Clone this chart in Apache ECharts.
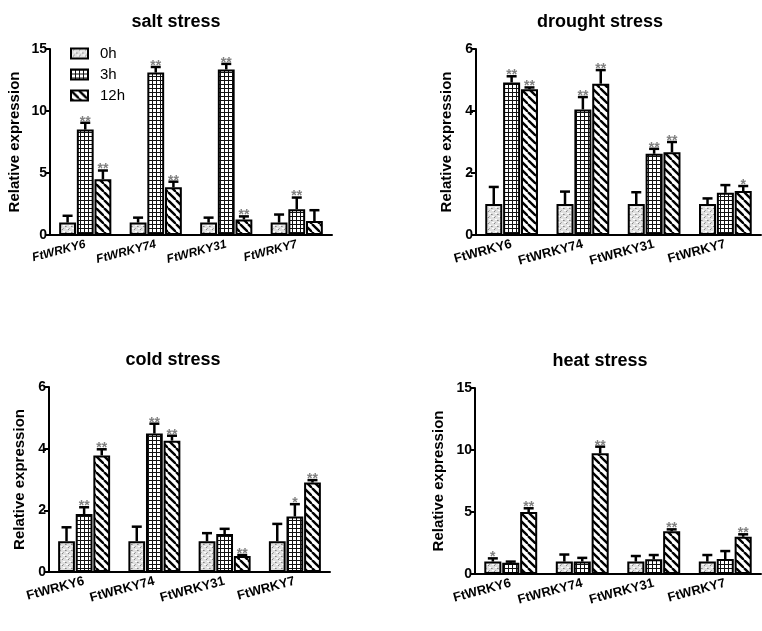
<!DOCTYPE html>
<html><head><meta charset="utf-8">
<script src="https://cdn.jsdelivr.net/npm/echarts@6/dist/echarts.min.js"></script>
<style>html,body{margin:0;padding:0;background:#fff}#c{width:762px;height:631px}</style>
</head><body><div id="c"></div>
<script>
// ---- data ----
const genes = ['FtWRKY6', 'FtWRKY74', 'FtWRKY31', 'FtWRKY7'];
const hours = ['0h', '3h', '12h'];
const panelTitles = ['salt stress', 'drought stress', 'cold stress', 'heat stress'];
const yMaxes = [15, 6, 6, 15];
const ySteps = [5, 2, 2, 5];

// rows: 0h, 3h, 12h ; columns: genes
const saltMean = [[1, 1, 1, 1], [8.5, 13.1, 13.35, 2.07], [4.5, 3.85, 1.25, 1.12]];
const saltErr  = [[0.55, 0.4, 0.4, 0.65], [0.55, 0.45, 0.45, 0.95], [0.7, 0.45, 0.25, 0.88]];
const saltSig  = [['', '', '', ''], ['**', '**', '**', '**'], ['**', '**', '**', '']];

const droughtMean = [[1, 1, 1, 1], [4.92, 4.05, 2.62, 1.36], [4.7, 4.88, 2.67, 1.42]];
const droughtErr  = [[0.55, 0.4, 0.38, 0.18], [0.2, 0.4, 0.16, 0.25], [0.06, 0.44, 0.33, 0.16]];
const droughtSig  = [['', '', '', ''], ['**', '**', '**', ''], ['**', '**', '**', '*']];

const coldMean = [[1, 1, 1, 1], [1.88, 4.49, 1.23, 1.8], [3.78, 4.26, 0.52, 2.9]];
const coldErr  = [[0.45, 0.47, 0.26, 0.56], [0.22, 0.32, 0.17, 0.4], [0.2, 0.16, 0.03, 0.08]];
const coldSig  = [['', '', '', ''], ['**', '**', '', '*'], ['**', '**', '**', '**']];

const heatMean = [[1, 1, 1, 1], [0.9, 1.0, 1.18, 1.2], [5.0, 9.73, 3.44, 3.0]];
const heatErr  = [[0.26, 0.57, 0.45, 0.53], [0.1, 0.3, 0.35, 0.65], [0.3, 0.54, 0.16, 0.2]];
const heatSig  = [['*', '', '', ''], ['', '', '', ''], ['**', '**', '**', '**']];

const panelMeans = [saltMean, droughtMean, coldMean, heatMean];
const panelErrs = [saltErr, droughtErr, coldErr, heatErr];
const panelSigs = [saltSig, droughtSig, coldSig, heatSig];

// ---- layout / style ----
const FONT = '"Liberation Sans", Arial, sans-serif';
const CAT_GAP = 0.26, BAR_GAP = 0.05, CAP = 5;
const grids = [
  {left: 50, top: 49, width: 282, height: 186},
  {left: 476, top: 49, width: 285, height: 186},
  {left: 49, top: 387, width: 281, height: 185},
  {left: 475, top: 388, width: 286, height: 186}
];
const titlePos = [[176, 13], [600, 13], [173, 351], [600, 352]];
const nameGaps = [28, 22, 22, 29];

function mk(w, h, draw) {
  const c = document.createElement('canvas'); c.width = w; c.height = h;
  draw(c.getContext('2d')); return c;
}
const dotPat = mk(6, 6, g => {
  g.fillStyle = '#e0e0e0'; g.fillRect(0, 0, 6, 6);
  g.fillStyle = '#ffffff'; g.fillRect(0, 0, 2, 1); g.fillRect(3, 3, 2, 1);
  g.fillStyle = '#858585'; g.fillRect(2, 1, 1, 1); g.fillRect(5, 4, 1, 1);
  g.fillStyle = '#aaaaaa'; g.fillRect(0, 4, 1, 1); g.fillRect(3, 0, 1, 1);
});
const gridPat = mk(4, 4, g => {
  g.fillStyle = '#fff'; g.fillRect(0, 0, 4, 4);
  g.fillStyle = '#111'; g.fillRect(0, 0, 4, 1); g.fillRect(0, 0, 1, 4);
});
const stripePat = mk(8, 8, g => {
  g.fillStyle = '#fff'; g.fillRect(0, 0, 8, 8);
  g.strokeStyle = '#000'; g.lineWidth = 2.4;
  for (let k = -1; k <= 1; k++) { g.beginPath(); g.moveTo(k * 8, 0); g.lineTo(k * 8 + 8, 8); g.stroke(); }
});
const pats = [dotPat, gridPat, stripePat];

function makeErr(h, means, errs, sigs) {
  return function (params, api) {
    const j = params.dataIndex;
    const m = means[h][j], e = errs[h][j];
    const p0 = api.coord([j, m]);
    const p1 = api.coord([j, m + e]);
    const band = api.size([1, 0])[0];
    const avail = band * (1 - CAT_GAP);
    const w = avail / (3 + 2 * BAR_GAP);
    const x = p0[0] - avail / 2 + w / 2 + h * w * (1 + BAR_GAP);
    const children = [
      {type: 'line', shape: {x1: x, y1: p0[1], x2: x, y2: p1[1]}, style: {stroke: '#000', lineWidth: 2.5}},
      {type: 'line', shape: {x1: x - CAP, y1: p1[1], x2: x + CAP, y2: p1[1]}, style: {stroke: '#000', lineWidth: 2.5}}
    ];
    if (sigs[h][j]) children.push({type: 'text', style: {text: sigs[h][j], x: x, y: p1[1] - 1, align: 'center', verticalAlign: 'middle', fill: '#808080', font: 'bold 14px ' + FONT}});
    return {type: 'group', children};
  };
}

const option = {
  backgroundColor: '#fff',
  animation: false,
  title: panelTitles.map((t, i) => ({text: t, left: titlePos[i][0], top: titlePos[i][1], textAlign: 'center', padding: 0,
    textStyle: {fontFamily: FONT, fontWeight: 'bold', fontSize: 18, color: '#000'}})),
  legend: {data: hours, orient: 'vertical', left: 65, top: 41, itemWidth: 17, itemHeight: 10, itemGap: 6, icon: 'rect',
    textStyle: {fontFamily: FONT, fontSize: 15, color: '#000', padding: [0, 0, 0, 7]},
    itemStyle: {borderColor: '#000', borderWidth: 2}},
  grid: grids,
  xAxis: grids.map((g, i) => ({type: 'category', gridIndex: i, data: genes,
    axisLine: {lineStyle: {color: '#000', width: 2}},
    axisTick: {alignWithLabel: true, length: 5, lineStyle: {color: '#000', width: 2}},
    axisLabel: {interval: 0, rotate: 15, margin: 9, fontFamily: FONT, fontWeight: 'bold', fontSize: i === 0 ? 12 : 13, color: '#000', fontStyle: i === 0 ? 'italic' : 'normal'}})),
  yAxis: grids.map((g, i) => ({type: 'value', gridIndex: i, min: 0, max: yMaxes[i], interval: ySteps[i],
    name: 'Relative expression', nameLocation: 'middle', nameGap: nameGaps[i],
    nameTextStyle: {fontFamily: FONT, fontWeight: 'bold', fontSize: 15, color: '#000'},
    axisLine: {show: true, lineStyle: {color: '#000', width: 2}},
    axisTick: {show: true, length: 5, lineStyle: {color: '#000', width: 2}},
    splitLine: {show: false},
    axisLabel: {fontFamily: FONT, fontWeight: 'bold', fontSize: 14, color: '#000', margin: 3}})),
  series: []
};

for (let p = 0; p < 4; p++) {
  for (let h = 0; h < 3; h++) {
    option.series.push({type: 'bar', name: hours[h], xAxisIndex: p, yAxisIndex: p,
      data: panelMeans[p][h], barCategoryGap: (CAT_GAP * 100) + '%', barGap: (BAR_GAP * 100) + '%',
      itemStyle: {color: {image: pats[h], repeat: 'repeat'}, borderColor: '#000', borderWidth: 2}});
  }
  for (let h = 0; h < 3; h++) {
    option.series.push({type: 'custom', name: 'err' + p + h, xAxisIndex: p, yAxisIndex: p, z: 5,
      renderItem: makeErr(h, panelMeans[p], panelErrs[p], panelSigs[p]),
      data: genes.map((g, j) => [j, panelMeans[p][h][j] + panelErrs[p][h][j]])});
  }
}

const chart = echarts.init(document.getElementById('c'), null, {renderer: 'canvas'});
chart.setOption(option);
</script></body></html>
